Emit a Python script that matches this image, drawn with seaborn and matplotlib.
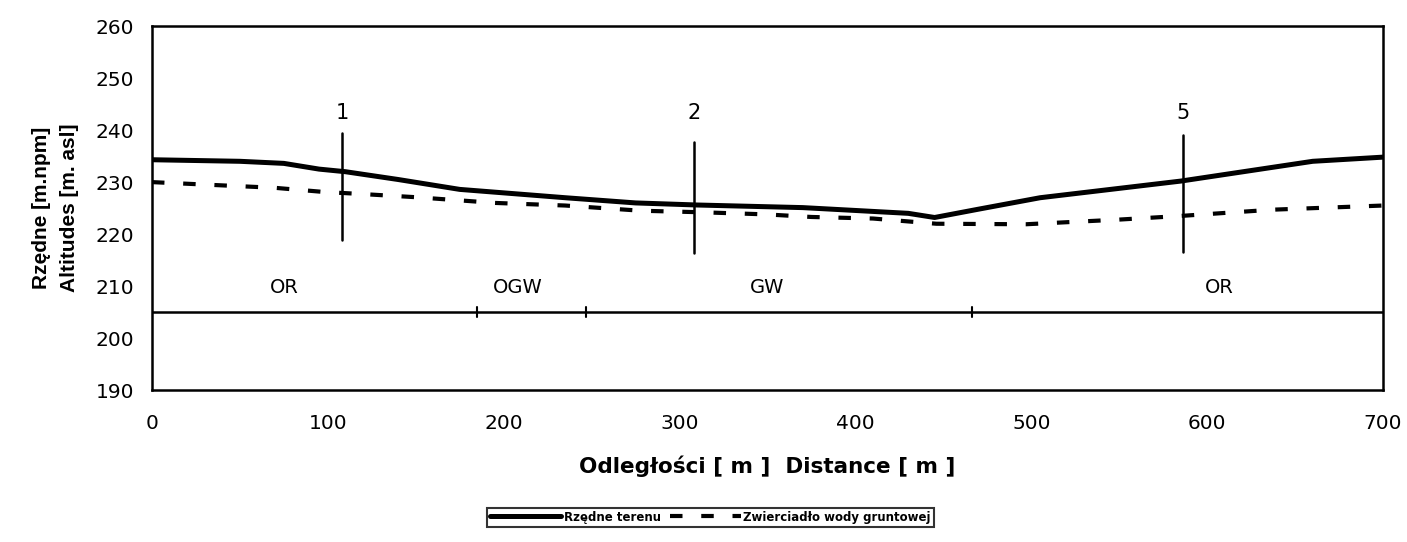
import matplotlib
matplotlib.use('Agg')
import matplotlib.pyplot as plt
import seaborn as sns
import pandas as pd
from matplotlib.lines import Line2D

sns.set_style('white')
plt.rcParams['font.family'] = ['DejaVu Sans']
plt.rcParams['text.color'] = 'black'
plt.rcParams['axes.labelcolor'] = 'black'
plt.rcParams['xtick.color'] = 'black'
plt.rcParams['ytick.color'] = 'black'

# terrain profile (Rzędne terenu)
terrain_dist = [0, 50, 75, 95, 110, 140, 175, 235, 275, 310, 370, 430, 445, 470, 505, 585, 660, 700]
terrain_alt = [234.3, 234.0, 233.6, 232.5, 232.0, 230.5, 228.6, 227.0, 226.0, 225.6, 225.1, 224.0,
               223.2, 224.8, 227.0, 230.2, 234.0, 234.8]

# groundwater table (Zwierciadło wody gruntowej)
water_dist = [0, 70, 98, 120, 150, 195, 235, 278, 313, 349, 375, 410, 446, 497, 550, 585, 637, 700]
water_alt = [230.0, 228.9, 228.1, 227.7, 227.1, 226.0, 225.5, 224.5, 224.2, 223.8, 223.3, 223.0,
             222.0, 221.9, 222.8, 223.5, 224.7, 225.5]

# piezometers: number, distance, bottom / top of the marker line
well_names = ['1', '2', '5']
well_dist = [108, 308, 586]
well_bottom = [218.8, 216.4, 216.5]
well_top = [239.4, 237.7, 239.0]

# base line with zone boundaries and zone labels
base_alt = 205
zone_bounds = [185, 247, 466]
zone_names = ['OR', 'OGW', 'GW', 'OR']
zone_pos = [75, 208, 350, 607]

df_t = pd.DataFrame({'dist': terrain_dist, 'alt': terrain_alt})
df_w = pd.DataFrame({'dist': water_dist, 'alt': water_alt})

fig = plt.figure(figsize=(14.07, 5.42), dpi=100)
ax = fig.add_axes([0.108, 0.28, 0.875, 0.672])

sns.lineplot(data=df_t, x='dist', y='alt', ax=ax, color='black', lw=3.6)
sns.lineplot(data=df_w, x='dist', y='alt', ax=ax, color='black', lw=3.0,
             linestyle=(0, (3, 4.5)))

# base line at 205 m
ax.plot([0, 700], [base_alt, base_alt], color='black', lw=1.8)
for b in zone_bounds:
    ax.plot([b, b], [base_alt - 1.0, base_alt + 1.0], color='black', lw=1.5)
for name, x in zip(zone_names, zone_pos):
    ax.text(x, 208.0, name, ha='center', va='bottom', fontsize=14)

# piezometer markers
for name, x, lo, hi in zip(well_names, well_dist, well_bottom, well_top):
    ax.plot([x, x], [lo, hi], color='black', lw=1.8)
    ax.text(x, 241.3, name, ha='center', va='bottom', fontsize=15)

ax.set_xlim(0, 700)
ax.set_ylim(190, 260)
ax.set_xticks(range(0, 701, 100))
ax.set_yticks(range(190, 261, 10))
ax.tick_params(axis='both', direction='inout', length=10, width=1.2, labelsize=14.5, pad=8)
ax.tick_params(axis='x', pad=12)
for s in ax.spines.values():
    s.set_color('black')
    s.set_linewidth(1.8)

ax.set_xlabel('Odległości [ m ]  Distance [ m ]', fontsize=15.5, fontweight='bold', labelpad=16)
ax.set_ylabel('Rzędne [m.npm]\nAltitudes [m. asl]', fontsize=15, fontweight='bold',
              labelpad=12, family='Liberation Sans', linespacing=1.6)

handles = [Line2D([], [], color='black', lw=3.6),
           Line2D([], [], color='black', lw=3.0, linestyle=(0, (3, 4.5)))]
leg = fig.legend(handles, ['Rzędne terenu', 'Zwierciadło wody gruntowej'],
                 loc='center', bbox_to_anchor=(0.505, 0.046), ncol=2, frameon=True,
                 fancybox=False, edgecolor='black', handlelength=6, handletextpad=0.2,
                 columnspacing=0.8, borderpad=0.25,
                 prop={'size': 8.5, 'weight': 'bold'})
leg.get_frame().set_linewidth(1.5)

fig.savefig('out.png', dpi=100)
